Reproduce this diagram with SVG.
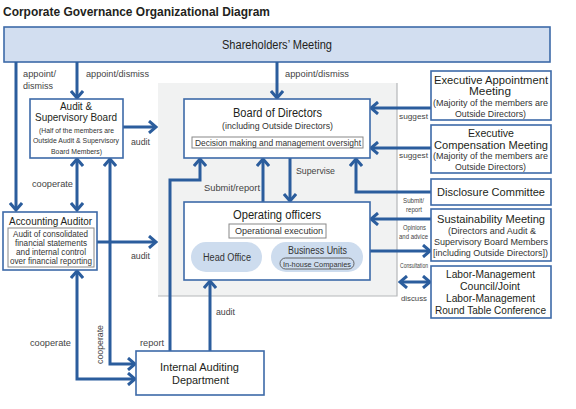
<svg xmlns="http://www.w3.org/2000/svg" width="576" height="409" viewBox="0 0 576 409">
<defs>
<style>
text{font-family:"Liberation Sans",Arial,sans-serif;fill:#231f20;text-anchor:middle}
.box{fill:#fff;stroke:#3d6aa8;stroke-width:1.6}
.inner{fill:#fff;stroke:#888;stroke-width:1}
.pill{fill:#cddcee}
.ipill{fill:none;stroke:#555;stroke-width:0.9}
.ar{fill:none;stroke:#2b5d9d;stroke-width:3;marker-end:url(#ah)}
.dar{fill:none;stroke:#2b5d9d;stroke-width:3;marker-end:url(#ah);marker-start:url(#ah)}
.t{font-size:11px}
.tl{font-size:12.5px}
.s{font-size:9px;fill:#333}
.lb{font-size:9.5px;fill:#444;text-anchor:start}
.rl{font-size:8px;fill:#444}
</style>
<marker id="ah" viewBox="0 0 12 14" refX="10" refY="7" markerWidth="12" markerHeight="14" markerUnits="userSpaceOnUse" orient="auto-start-reverse">
<path d="M3,1 L10,7 L3,13" fill="none" stroke="#2b5d9d" stroke-width="3"/>
</marker>
</defs>
<rect width="576" height="409" fill="#fff"/>
<text x="3" y="16" textLength="267" lengthAdjust="spacingAndGlyphs" style="font-size:13px;font-weight:bold;text-anchor:start;fill:#231f20">Corporate Governance Organizational Diagram</text>

<rect x="158" y="83" width="239" height="213" fill="#f1f2f2"/>
<path d="M397,83 V296 H158" fill="none" stroke="#b5b7b9" stroke-width="1.2"/>

<g id="shareholders">
<rect x="4" y="27" width="546" height="35" fill="#d2def0" stroke="#3d6aa8" stroke-width="1.6"/>
<text x="277" y="49" textLength="110" lengthAdjust="spacingAndGlyphs" style="font-size:12.5px">Shareholders’ Meeting</text>
</g>

<g id="connectors">
<path class="ar" d="M16,62 V210"/>
<path class="ar" d="M77,62 V98"/>
<path class="ar" d="M277,62 V98"/>
<path class="ar" d="M123,127 H156"/>
<path class="dar" d="M77,159 V210"/>
<path class="dar" d="M110,159 V364 H135"/>
<path class="ar" d="M97,242 H156"/>
<path class="dar" d="M77,271 V379 H135"/>
<path class="ar" d="M170,351 V180 H200 V159"/>
<path class="ar" d="M210,351 V281"/>
<path class="ar" d="M263,202 V159"/>
<path class="ar" d="M290,158 V201"/>
<path class="ar" d="M431,108 H371"/>
<path class="ar" d="M431,148 H371"/>
<path class="ar" d="M431,192 H356 V159"/>
<path class="ar" d="M431,219 H371"/>
<path class="ar" d="M370,251 H430"/>
<path class="dar" d="M400,282 H430"/>
<text class="lb" x="23" y="77" textLength="33" lengthAdjust="spacingAndGlyphs">appoint/</text>
<text class="lb" x="23" y="89" textLength="30" lengthAdjust="spacingAndGlyphs">dismiss</text>
<text class="lb" x="86" y="77" textLength="63" lengthAdjust="spacingAndGlyphs">appoint/dismiss</text>
<text class="lb" x="285" y="77" textLength="64" lengthAdjust="spacingAndGlyphs">appoint/dismiss</text>
<text class="lb" x="131" y="145" textLength="19" lengthAdjust="spacingAndGlyphs">audit</text>
<text class="lb" x="32" y="187" textLength="41" lengthAdjust="spacingAndGlyphs">cooperate</text>
<text class="lb" x="131" y="259" textLength="19" lengthAdjust="spacingAndGlyphs">audit</text>
<text class="lb" x="30" y="346" textLength="41" lengthAdjust="spacingAndGlyphs">cooperate</text>
<text class="lb" x="0" y="0" transform="translate(103,344.5) rotate(-90)" textLength="39" lengthAdjust="spacingAndGlyphs" style="text-anchor:middle">cooperate</text>
<text class="lb" x="140" y="346" textLength="24" lengthAdjust="spacingAndGlyphs">report</text>
<text class="lb" x="216" y="315" textLength="19" lengthAdjust="spacingAndGlyphs">audit</text>
<text class="lb" x="204" y="191" textLength="56" lengthAdjust="spacingAndGlyphs">Submit/report</text>
<text class="lb" x="296" y="174" textLength="39" lengthAdjust="spacingAndGlyphs">Supervise</text>
<text class="rl" x="413.5" y="119" textLength="29" lengthAdjust="spacingAndGlyphs">suggest</text>
<text class="rl" x="413.5" y="158" textLength="29" lengthAdjust="spacingAndGlyphs">suggest</text>
<text class="rl" x="413.5" y="203" textLength="21" lengthAdjust="spacingAndGlyphs">Submit/</text>
<text class="rl" x="414" y="212" textLength="16" lengthAdjust="spacingAndGlyphs">report</text>
<text class="rl" x="414.5" y="230" textLength="23" lengthAdjust="spacingAndGlyphs">Opinions</text>
<text class="rl" x="413.5" y="239" textLength="29" lengthAdjust="spacingAndGlyphs">and advice</text>
<text class="rl" x="414" y="268" textLength="28" lengthAdjust="spacingAndGlyphs">Consultation</text>
<text class="rl" x="414" y="301" textLength="26" lengthAdjust="spacingAndGlyphs">discuss</text>
</g>

<g id="audit-board">
<rect class="box" x="30" y="99" width="93" height="59"/>
<text class="t" x="76" y="110" textLength="32" lengthAdjust="spacingAndGlyphs" style="font-size:11.5px">Audit &amp;</text>
<text class="t" x="76" y="121" textLength="82" lengthAdjust="spacingAndGlyphs" style="font-size:11.5px">Supervisory Board</text>
<text class="s" x="76.5" y="133" textLength="75" lengthAdjust="spacingAndGlyphs" style="font-size:8px">(Half of the members are</text>
<text class="s" x="76" y="143" textLength="86" lengthAdjust="spacingAndGlyphs" style="font-size:8px">Outside Audit &amp; Supervisory</text>
<text class="s" x="76.5" y="154" textLength="51" lengthAdjust="spacingAndGlyphs" style="font-size:8px">Board Members)</text>
</g>

<g id="accounting-auditor">
<rect class="box" x="3" y="212" width="94" height="58"/>
<text class="t" x="50.5" y="225" textLength="83" lengthAdjust="spacingAndGlyphs">Accounting Auditor</text>
<rect class="inner" x="8" y="228" width="86" height="39"/>
<text class="s" x="50.5" y="237" textLength="75" lengthAdjust="spacingAndGlyphs" style="font-size:8.5px">Audit of consolidated</text>
<text class="s" x="51" y="246" textLength="72" lengthAdjust="spacingAndGlyphs" style="font-size:8.5px">financial statements</text>
<text class="s" x="51" y="255" textLength="70" lengthAdjust="spacingAndGlyphs" style="font-size:8.5px">and internal control</text>
<text class="s" x="51" y="264" textLength="82" lengthAdjust="spacingAndGlyphs" style="font-size:8.5px">over financial reporting</text>
</g>

<g id="board">
<rect class="box" x="184" y="99" width="186" height="59"/>
<text class="tl" x="277.5" y="117" textLength="89" lengthAdjust="spacingAndGlyphs">Board of Directors</text>
<text class="s" x="277.5" y="129" textLength="111" lengthAdjust="spacingAndGlyphs" style="font-size:9.5px">(including Outside Directors)</text>
<rect class="inner" x="192" y="137" width="171" height="11"/>
<text class="s" x="278" y="146" textLength="166" lengthAdjust="spacingAndGlyphs" style="font-size:9px">Decision making and management oversight</text>
</g>

<g id="operating-officers">
<rect class="box" x="184" y="202" width="186" height="78"/>
<text class="tl" x="277" y="219" textLength="88" lengthAdjust="spacingAndGlyphs">Operating officers</text>
<rect class="inner" x="229" y="224" width="97" height="14"/>
<text class="s" x="279" y="234" textLength="88" lengthAdjust="spacingAndGlyphs" style="font-size:9.5px">Operational execution</text>
<rect class="pill" x="191" y="242" width="71" height="30" rx="15"/>
<text x="227" y="261" textLength="48" lengthAdjust="spacingAndGlyphs" style="font-size:10px;fill:#333">Head Office</text>
<rect class="pill" x="271" y="242" width="92" height="30" rx="15"/>
<text x="317.5" y="254" textLength="59" lengthAdjust="spacingAndGlyphs" style="font-size:10px;fill:#333">Business Units</text>
<rect class="ipill" x="280" y="258" width="74" height="11" rx="5.5"/>
<text x="317" y="266.5" textLength="68" lengthAdjust="spacingAndGlyphs" style="font-size:8px;fill:#333">In-house Companies</text>
</g>

<g id="internal-auditing">
<rect class="box" x="136" y="351" width="128" height="44"/>
<text class="t" x="199.5" y="371" textLength="79" lengthAdjust="spacingAndGlyphs" style="font-size:11.5px">Internal Auditing</text>
<text class="t" x="200.5" y="384" textLength="57" lengthAdjust="spacingAndGlyphs" style="font-size:11.5px">Department</text>
</g>

<g id="exec-appointment">
<rect class="box" x="431" y="71" width="120" height="49"/>
<text class="t" x="491" y="84" textLength="114" lengthAdjust="spacingAndGlyphs">Executive Appointment</text>
<text class="t" x="490" y="95" textLength="42" lengthAdjust="spacingAndGlyphs">Meeting</text>
<text class="s" x="490.5" y="106" textLength="115" lengthAdjust="spacingAndGlyphs" style="font-size:9px">(Majority of the members are</text>
<text class="s" x="490.5" y="117" textLength="71" lengthAdjust="spacingAndGlyphs" style="font-size:9px">Outside Directors)</text>
</g>

<g id="exec-compensation">
<rect class="box" x="431" y="125" width="120" height="48"/>
<text class="t" x="491" y="137" textLength="46" lengthAdjust="spacingAndGlyphs">Executive</text>
<text class="t" x="491" y="149" textLength="114" lengthAdjust="spacingAndGlyphs">Compensation Meeting</text>
<text class="s" x="490.5" y="159" textLength="115" lengthAdjust="spacingAndGlyphs" style="font-size:9px">(Majority of the members are</text>
<text class="s" x="490.5" y="170" textLength="71" lengthAdjust="spacingAndGlyphs" style="font-size:9px">Outside Directors)</text>
</g>

<g id="disclosure">
<rect class="box" x="431" y="179" width="120" height="26"/>
<text class="t" x="491" y="196" textLength="108" lengthAdjust="spacingAndGlyphs">Disclosure Committee</text>
</g>

<g id="sustainability">
<rect class="box" x="431" y="209" width="120" height="52"/>
<text class="t" x="491" y="223" textLength="108" lengthAdjust="spacingAndGlyphs">Sustainability Meeting</text>
<text class="s" x="492" y="234" textLength="88" lengthAdjust="spacingAndGlyphs" style="font-size:9px">(Directors and Audit &amp;</text>
<text class="s" x="491" y="245" textLength="114" lengthAdjust="spacingAndGlyphs" style="font-size:9px">Supervisory Board Members</text>
<text class="s" x="490.5" y="256" textLength="115" lengthAdjust="spacingAndGlyphs" style="font-size:9px">[including Outside Directors])</text>
</g>

<g id="labor">
<rect class="box" x="431" y="266" width="120" height="52"/>
<text class="t" x="490.5" y="278" textLength="89" lengthAdjust="spacingAndGlyphs" style="font-size:10.5px">Labor-Management</text>
<text class="t" x="490" y="290" textLength="60" lengthAdjust="spacingAndGlyphs" style="font-size:10.5px">Council/Joint</text>
<text class="t" x="490.5" y="302" textLength="89" lengthAdjust="spacingAndGlyphs" style="font-size:10.5px">Labor-Management</text>
<text class="t" x="490.5" y="314" textLength="111" lengthAdjust="spacingAndGlyphs" style="font-size:10.5px">Round Table Conference</text>
</g>
</svg>
